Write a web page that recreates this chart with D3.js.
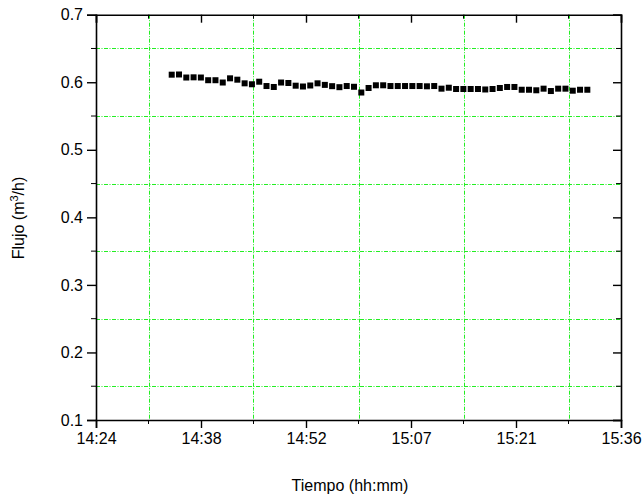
<!DOCTYPE html>
<html>
<head>
<meta charset="utf-8">
<script src="https://cdn.jsdelivr.net/npm/d3@7"></script>
<style>
  html, body { margin: 0; padding: 0; background: #fff; }
  svg { display: block; }
  text { font-family: "Liberation Sans", Arial, sans-serif; fill: #000; }
</style>
</head>
<body>
<svg id="chart" width="643" height="497"></svg>
<script>
// Flow readings, one per minute
const sampleTimes = [
  "14:34:23","14:35:23","14:36:23","14:37:23","14:38:23","14:39:23","14:40:23","14:41:23",
  "14:42:23","14:43:23","14:44:23","14:45:23","14:46:23","14:47:23","14:48:23","14:49:23",
  "14:50:23","14:51:23","14:52:23","14:53:23","14:54:23","14:55:23","14:56:23","14:57:23",
  "14:58:23","14:59:23","15:00:23","15:01:23","15:02:23","15:03:23","15:04:23","15:05:23",
  "15:06:23","15:07:23","15:08:23","15:09:23","15:10:23","15:11:23","15:12:23","15:13:23",
  "15:14:23","15:15:23","15:16:23","15:17:23","15:18:23","15:19:23","15:20:23","15:21:23",
  "15:22:23","15:23:23","15:24:23","15:25:23","15:26:23","15:27:23","15:28:23","15:29:23",
  "15:30:23","15:31:23"
];
const flowValues = [
  0.6112, 0.6115, 0.6070, 0.6073, 0.6070, 0.6030, 0.6030, 0.5996,
  0.6058, 0.6038, 0.5984, 0.5970, 0.6008, 0.5944, 0.5930, 0.5996,
  0.5989, 0.5949, 0.5937, 0.5952, 0.5984, 0.5961, 0.5942, 0.5927,
  0.5944, 0.5933, 0.5848, 0.5915, 0.5955, 0.5955, 0.5944, 0.5944,
  0.5944, 0.5944, 0.5944, 0.5940, 0.5944, 0.5905, 0.5919, 0.5900,
  0.5900, 0.5900, 0.5900, 0.5893, 0.5900, 0.5915, 0.5930, 0.5930,
  0.5889, 0.5889, 0.5881, 0.5905, 0.5870, 0.5905, 0.5905, 0.5875,
  0.5889, 0.5889
];

// Axis ticks
const xMajorTimes = ["14:24:00","14:38:24","14:52:48","15:07:12","15:21:36","15:36:00"];
const xMinorTimes = ["14:31:12","14:45:36","15:00:00","15:14:24","15:28:48"];
const yMajorTicks = [0.1, 0.2, 0.3, 0.4, 0.5, 0.6, 0.7];
const yMinorTicks = [0.15, 0.25, 0.35, 0.45, 0.55, 0.65];

const xTitle = "Tiempo (hh:mm)";

const parseT = d3.timeParse("%H:%M:%S");
const fmtT = d3.timeFormat("%H:%M");

const plotLeft = 96, plotRight = 621, plotTop = 14.7, plotBottom = 420;

const x = d3.scaleTime()
  .domain([parseT(xMajorTimes[0]), parseT(xMajorTimes[xMajorTimes.length - 1])])
  .range([plotLeft, plotRight]);
const y = d3.scaleLinear().domain([0.1, 0.7]).range([plotBottom, plotTop]);

const svg = d3.select("#chart");

// Green dash-dot grid at the minor tick positions
const grid = svg.append("g")
  .attr("stroke", "#22ee22")
  .attr("stroke-width", 1)
  .attr("stroke-dasharray", "4,1.5,1,1.5");
grid.selectAll("line.v").data(xMinorTimes).join("line")
  .attr("class", "v")
  .attr("x1", d => Math.round(x(parseT(d))) + 0.5)
  .attr("x2", d => Math.round(x(parseT(d))) + 0.5)
  .attr("y1", plotTop).attr("y2", plotBottom);
grid.selectAll("line.h").data(yMinorTicks).join("line")
  .attr("class", "h")
  .attr("y1", d => Math.round(y(d)) + 0.5)
  .attr("y2", d => Math.round(y(d)) + 0.5)
  .attr("x1", plotLeft).attr("x2", plotRight);

const fontSize = 16;

// Bottom axis (outward ticks) with labels
const xAxis = d3.axisBottom(x)
  .tickValues(xMajorTimes.map(parseT))
  .tickFormat(fmtT)
  .tickSize(8).tickPadding(5);
const gx = svg.append("g").attr("transform", `translate(0,${plotBottom})`).call(xAxis);
gx.selectAll("text").style("font-size", fontSize + "px").attr("font-family", null);
gx.append("g").selectAll("line").data(xMinorTimes).join("line")
  .attr("x1", d => x(parseT(d))).attr("x2", d => x(parseT(d)))
  .attr("y1", 0).attr("y2", 4).attr("stroke", "#000");

// Top axis (inward ticks, no labels)
const gxt = svg.append("g").attr("transform", `translate(0,${plotTop})`)
  .call(d3.axisBottom(x).tickValues(xMajorTimes.map(parseT)).tickFormat("").tickSize(8));
gxt.append("g").selectAll("line").data(xMinorTimes).join("line")
  .attr("x1", d => x(parseT(d))).attr("x2", d => x(parseT(d)))
  .attr("y1", 0).attr("y2", 4).attr("stroke", "#000");

// Left axis (outward ticks) with labels
const yAxis = d3.axisLeft(y)
  .tickValues(yMajorTicks)
  .tickFormat(d3.format(".1f"))
  .tickSize(9).tickPadding(4);
const gy = svg.append("g").attr("transform", `translate(${plotLeft},0)`).call(yAxis);
gy.selectAll("text").style("font-size", fontSize + "px").attr("font-family", null);
gy.append("g").selectAll("line").data(yMinorTicks).join("line")
  .attr("y1", d => y(d)).attr("y2", d => y(d))
  .attr("x1", 0).attr("x2", -5).attr("stroke", "#000");

// Right axis (inward ticks, no labels)
const gyr = svg.append("g").attr("transform", `translate(${plotRight},0)`)
  .call(d3.axisLeft(y).tickValues(yMajorTicks).tickFormat("").tickSize(8));
gyr.append("g").selectAll("line").data(yMinorTicks).join("line")
  .attr("y1", d => y(d)).attr("y2", d => y(d))
  .attr("x1", 0).attr("x2", -5).attr("stroke", "#000");

// Axis line weights
svg.selectAll(".domain").attr("stroke-width", 1.6);
svg.selectAll(".tick line").attr("stroke-width", 1.4);

// Data markers
const sq = 6;
svg.append("g").selectAll("rect").data(sampleTimes).join("rect")
  .attr("x", (d, i) => x(parseT(d)) - sq / 2)
  .attr("y", (d, i) => y(flowValues[i]) - sq / 2)
  .attr("width", sq).attr("height", sq)
  .attr("fill", "#000");

// Axis titles
svg.append("text")
  .attr("x", 350).attr("y", 491)
  .attr("text-anchor", "middle")
  .style("font-size", fontSize + "px")
  .text(xTitle);

const yt = svg.append("text")
  .attr("transform", "translate(24,218) rotate(-90)")
  .attr("text-anchor", "middle")
  .style("font-size", fontSize + "px");
yt.append("tspan").text("Flujo (m");
yt.append("tspan").attr("dy", -6).style("font-size", "11px").text("3");
yt.append("tspan").attr("dy", 6).text("/h)");
</script>
</body>
</html>
